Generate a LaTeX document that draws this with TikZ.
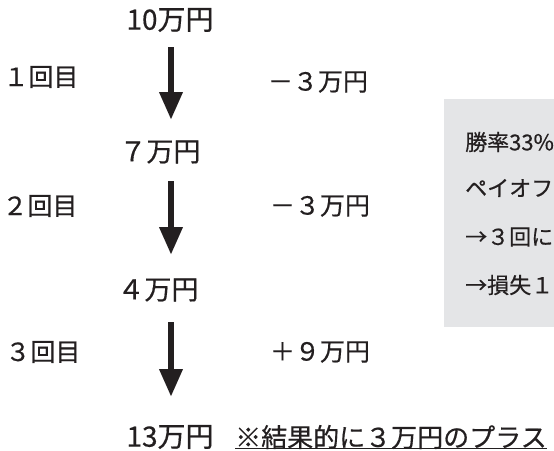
\documentclass[tikz,border=0pt]{standalone}
\usepackage{fontspec}
\setmainfont{Noto Sans CJK JP}[FakeBold=0.5]
\usetikzlibrary{arrows.meta}
\definecolor{ink}{HTML}{231F20}
\definecolor{boxgray}{HTML}{E4E5E7}
\tikzset{
  amount/.style={text=ink, inner sep=0pt, font=\fontsize{27}{31}\selectfont},
  roundlbl/.style={text=ink, inner sep=0pt, font=\fontsize{25}{29}\selectfont},
  boxtxt/.style={text=ink, inner sep=0pt, anchor=west, font=\fontsize{22}{26}\selectfont},
  bigarrow/.style={draw=ink, line width=6.5pt, -{Triangle[length=28pt,width=22pt]}},
}
\begin{document}
\begin{tikzpicture}[x=1pt,y=-1pt]
\useasboundingbox (0,0) rectangle (554,450);
% grey note box (cut off at the right edge)
\fill[boxgray] (444,99) rectangle (554,327);
\node[boxtxt] (b1) at (465,142) {勝率33\%};
\node[boxtxt] (b2) at (465,188) {ペイオフ};
\node[boxtxt] (b3) at (465,237) {→３回に};
\node[boxtxt] (b4) at (465,285) {→損失１};
% amounts
\node[amount, font=\fontsize{28}{32}\selectfont] (v0) at (170,20) {10万円};
\node[amount] (v1) at (160,152) {７万円};
\node[amount] (v2) at (158,290) {４万円};
\node[amount, font=\fontsize{28}{32}\selectfont] (v3) at (170,437) {13万円};
\node[amount, font=\fontsize{26}{30}\selectfont, anchor=west] (note) at (235,437) {※結果的に３万円のプラス};
\draw[ink, line width=0.8pt] (note.west |- 0,448) -- (note.east |- 0,448);
% arrows
\coordinate (a1s) at (171,47);  \coordinate (a1e) at (171,120);
\coordinate (a2s) at (171,181); \coordinate (a2e) at (171,255);
\coordinate (a3s) at (171,322); \coordinate (a3e) at (171,397);
\draw[bigarrow] (a1s) -- (a1e);
\draw[bigarrow] (a2s) -- (a2e);
\draw[bigarrow] (a3s) -- (a3e);
% round labels
\node[roundlbl] (r1) at (41,77) {１回目};
\node[roundlbl] (r2) at (40,206) {２回目};
\node[roundlbl] (r3) at (43,352) {３回目};
% changes
\node[roundlbl] (c1) at (318,82) {－３万円};
\node[roundlbl] (c2) at (320,206) {－３万円};
\node[roundlbl] (c3) at (320,352) {＋９万円};
\end{tikzpicture}
\end{document}
